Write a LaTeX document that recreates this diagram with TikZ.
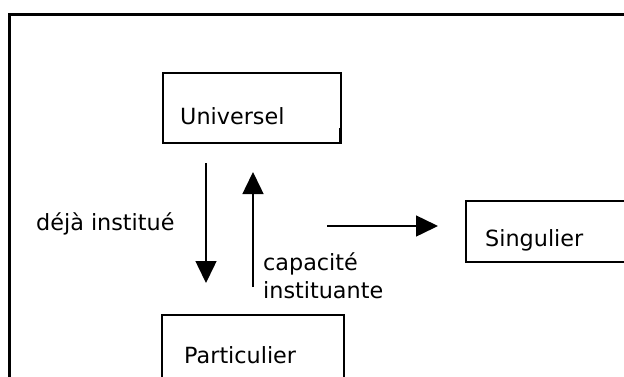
\documentclass[tikz,border=0pt]{standalone}
\usepackage{fontspec}
\setmainfont{DejaVu Sans}
\usetikzlibrary{arrows.meta}
\begin{document}
\begin{tikzpicture}[x=1pt,y=-1pt,
  lbl/.style={anchor=base west,inner sep=0pt,font=\fontsize{22.3}{26}\selectfont},
  boxline/.style={draw=black,line width=1.5pt},
  arr/.style={line width=1.5pt,-{Triangle[length=22pt,width=21pt]}}]
\useasboundingbox (0,0) rectangle (624,376);
\clip (0,0) rectangle (624,376);
\fill[white] (0,0) rectangle (624,376);
% outer frame
\draw[line width=3.2pt] (9.5,400) -- (9.5,14.5) -- (640,14.5);
% boxes
\draw[boxline] (163,73) rectangle (341,143);
\draw[line width=2.5pt] (340.5,128) -- (340.5,143);
\draw[boxline] (162,400) -- (162,315) -- (344,315) -- (344,400);
\draw[boxline] (640,201) -- (466,201) -- (466,262) -- (640,262);
% texts
\node[lbl] (univ) at (180,124.5) {Universel};
\node[lbl] (part) at (184,363.5) {Particulier};
\node[lbl] (sing) at (485,246) {Singulier};
\node[lbl] (deja) at (36,230.5) {déjà institué};
\node[lbl] (capa) at (263,270) {capacité};
\node[lbl] (inst) at (263,298.5) {instituante};
% arrow endpoints
\coordinate (d1) at (206,163);
\coordinate (d2) at (206,283);
\coordinate (u1) at (253,287);
\coordinate (u2) at (253,172);
\coordinate (r1) at (327,226);
\coordinate (r2) at (438,226);
\draw[arr] (d1) -- (d2);
\draw[arr] (u1) -- (u2);
\draw[arr] (r1) -- (r2);
\end{tikzpicture}
\end{document}
